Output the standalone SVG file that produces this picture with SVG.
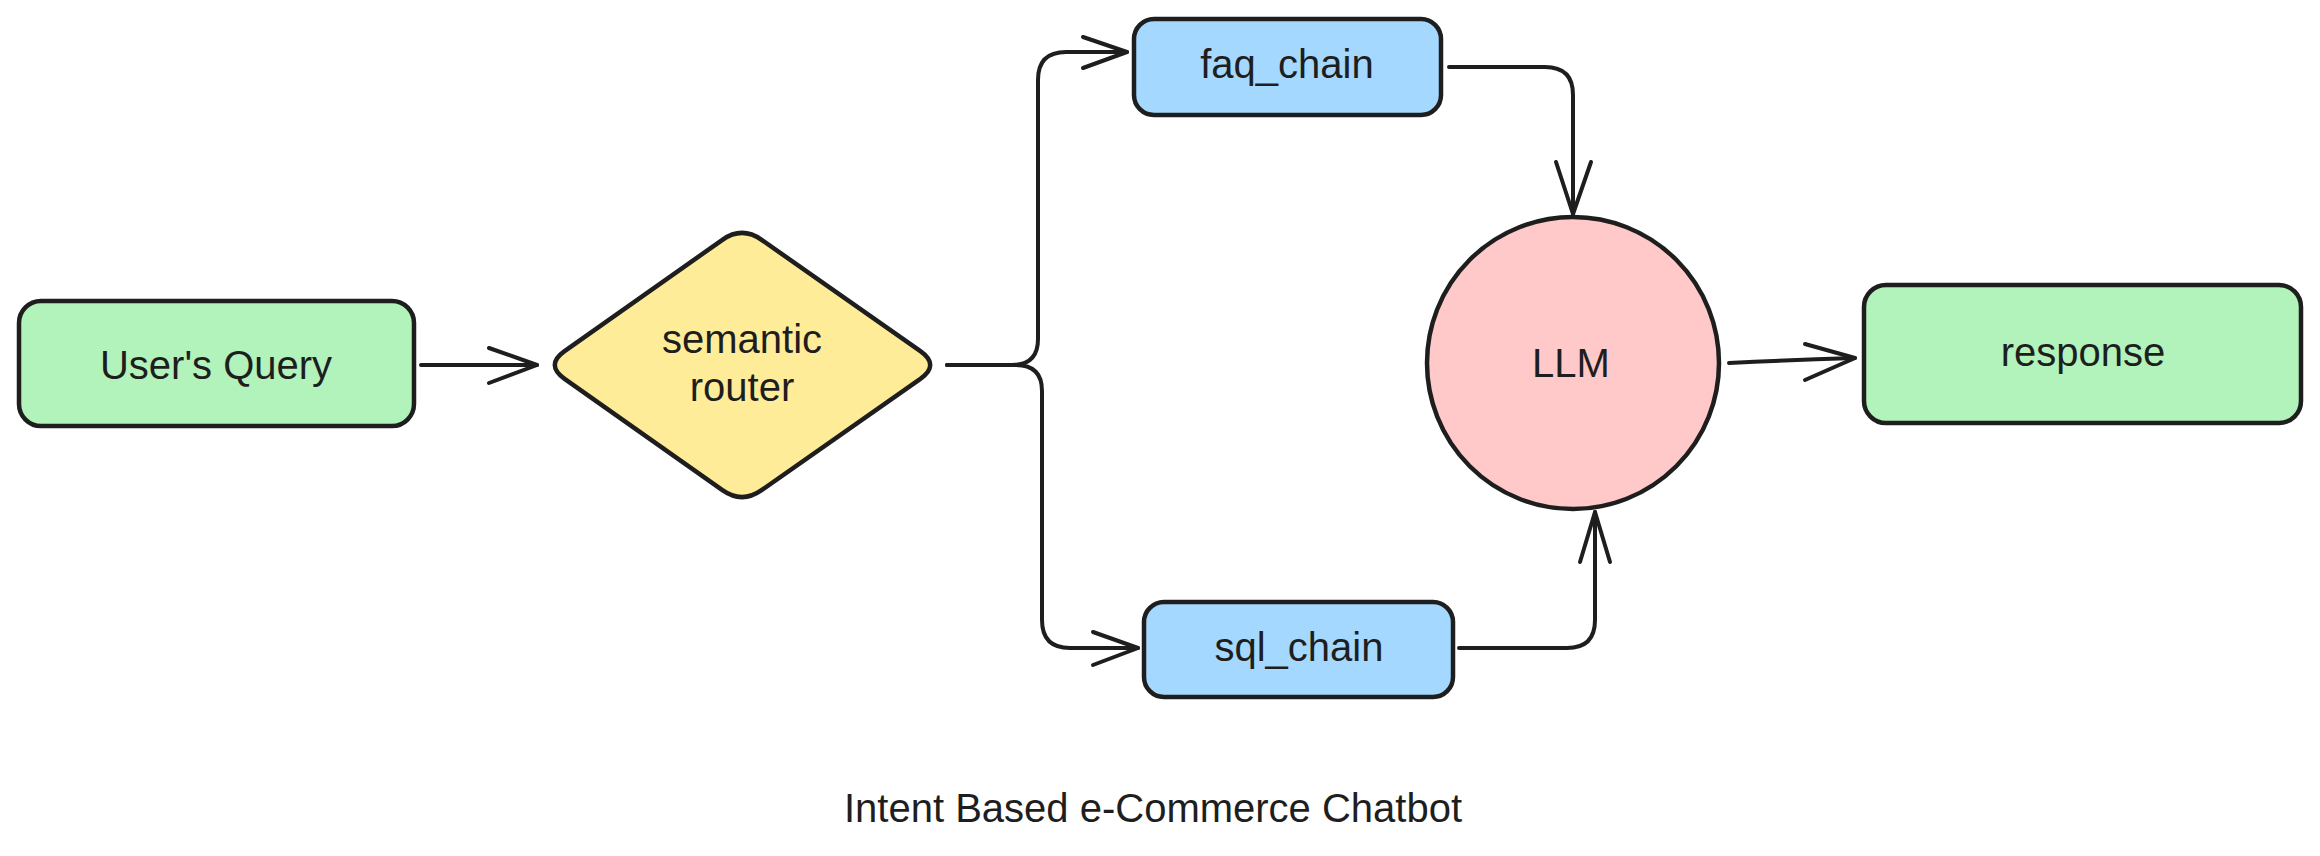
<svg xmlns="http://www.w3.org/2000/svg" width="2320" height="856" viewBox="0 0 2320 856">
<style>
.shape{stroke:#1e1e1e;stroke-width:4.5;stroke-linejoin:round}
.green{fill:#b2f2bb}
.blue{fill:#a5d8ff}
.yellow{fill:#ffec99}
.pink{fill:#ffc9c9}
.lbl{font-family:"Liberation Sans",Arial,sans-serif;font-size:40px;fill:#1e1e1e;text-anchor:middle}
.title{font-size:40px}
.conn path{fill:none;stroke:#1e1e1e;stroke-width:4;stroke-linecap:round;stroke-linejoin:round}
</style>
<rect width="2320" height="856" fill="#ffffff"/>
<g id="users-query">
<rect class="shape green" x="19" y="301" width="395" height="125" rx="22"/>
<text class="lbl" x="216" y="379">User's Query</text>
</g>
<g id="semantic-router">
<path class="shape yellow" d="M564.6,351.2 L722.4,239.8 Q742,226 761.6,239.8 L920.4,351.2 Q940,365 920.4,378.8 L761.6,490.2 Q742,504 722.4,490.2 L564.6,378.8 Q545,365 564.6,351.2 Z"/>
<text class="lbl" x="742" y="353">semantic</text>
<text class="lbl" x="742" y="401">router</text>
</g>
<g id="faq-chain">
<rect class="shape blue" x="1134" y="19" width="307" height="96" rx="20"/>
<text class="lbl" x="1287" y="78">faq_chain</text>
</g>
<g id="sql-chain">
<rect class="shape blue" x="1144" y="602" width="309" height="95" rx="20"/>
<text class="lbl" x="1299" y="661">sql_chain</text>
</g>
<g id="llm">
<circle class="shape pink" cx="1573" cy="363" r="146"/>
<text class="lbl" x="1571" y="377">LLM</text>
</g>
<g id="response">
<rect class="shape green" x="1864" y="285" width="437" height="138" rx="22"/>
<text class="lbl" x="2083" y="366">response</text>
</g>
<g id="connectors" class="conn">
<path d="M421,365 L537,365"/>
<path d="M489,348 L537,365 L489,383"/>
<path d="M947,365 L1012,365 Q1038,365 1038,339 L1038,80 Q1038,52 1066,52 L1127,52"/>
<path d="M1083,37 L1127,52 L1083,68"/>
<path d="M947,365 L1016,365 Q1042,365 1042,391 L1042,620 Q1042,648 1070,648 L1138,648"/>
<path d="M1093,632 L1138,648 L1093,665"/>
<path d="M1449,67 L1545,67 Q1573,67 1573,95 L1573,214"/>
<path d="M1556,162 L1573,214 L1591,162"/>
<path d="M1459,648 L1567,648 Q1595,648 1595,620 L1595,512"/>
<path d="M1580,562 L1595,512 L1610,562"/>
<path d="M1729,363 Q1790,360 1855,358"/>
<path d="M1805,344 L1855,358 L1805,380"/>
</g>
<g id="caption">
<text class="lbl title" x="1153" y="822">Intent Based e-Commerce Chatbot</text>
</g>
</svg>
